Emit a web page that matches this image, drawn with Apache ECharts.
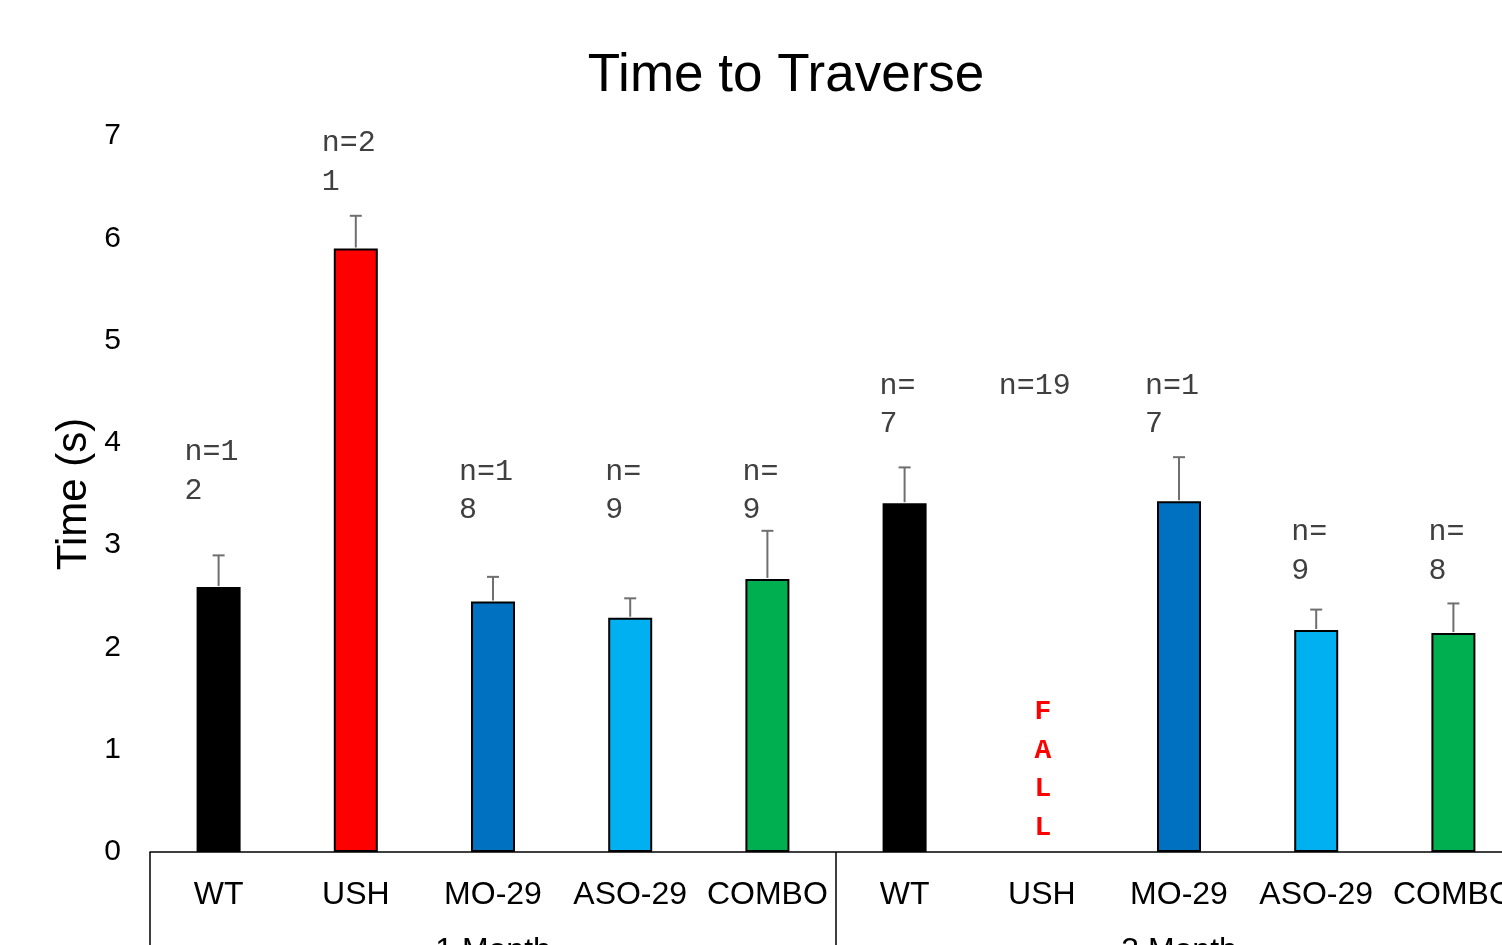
<html>
<head>
<title>Time to Traverse</title>
<script src="https://cdn.jsdelivr.net/npm/echarts@6.0.0/dist/echarts.min.js"></script>
<style>
  body { margin: 0px; background: white; }
  #chart { width: 1502px; height: 945px; }
</style>
</head>
<body>
<div id="chart"></div>
<script type="text/javascript">
  // categories and groups
  const categories = ['WT', 'USH', 'MO-29', 'ASO-29', 'COMBO', 'WT', 'USH', 'MO-29', 'ASO-29', 'COMBO']
  const groups = ['1 Month', '3 Month']

  // mean time and upper error (s)
  const means = [2.59, 5.90, 2.45, 2.29, 2.67, 3.41, null, 3.43, 2.17, 2.14]
  const errTops = [2.90, 6.22, 2.69, 2.48, 3.14, 3.76, null, 3.86, 2.37, 2.43]
  const barColors = ['#000000', '#ff0000', '#0070c0', '#00b0f0', '#00b050',
                     '#000000', '#ff0000', '#0070c0', '#00b0f0', '#00b050']

  // n= annotations and where they sit (in seconds)
  const nLabels = ['n=1\n2', 'n=2\n1', 'n=1\n8', 'n=\n9', 'n=\n9', 'n=\n7', 'n=19', 'n=1\n7', 'n=\n9', 'n=\n8']
  const nLabelAt = [3.91, 6.93, 3.72, 3.72, 3.72, 4.56, 4.56, 4.56, 3.13, 3.13]
  const notes = ['', '', '', '', '', '', 'F\nA\nL\nL', '', '', '']
  const noteAt = [0, 0, 0, 0, 0, 0, 1.37, 0, 0, 0]

  const chart = echarts.init(document.getElementById('chart'))

  const errData = means.map((m, i) => [i, m, errTops[i]]).filter(d => d[1] != null)
  const labelData = nLabels.map((t, i) => [i, nLabelAt[i]])
  const noteData = notes.map((t, i) => [i, noteAt[i]]).filter(d => notes[d[0]] !== '')

  const option = {
    animation: false,
    backgroundColor: '#ffffff',
    title: {
      text: 'Time to Traverse',
      left: 781,
      top: 26,
      textAlign: 'center',
      textStyle: { fontFamily: 'Liberation Sans', fontSize: 53, fontWeight: 'normal', color: '#000' }
    },
    grid: { left: 150, top: 136, height: 716, width: 1372, containLabel: false, outerBoundsMode: 'none' },
    xAxis: [
      {
        type: 'category',
        data: categories,
        axisLine: { lineStyle: { color: '#000', width: 1.5 } },
        axisTick: { show: false },
        axisLabel: { interval: 0, margin: 16, fontFamily: 'Liberation Sans', fontSize: 32, color: '#000' }
      },
      {
        type: 'category',
        data: groups,
        position: 'bottom',
        axisLine: { show: false },
        axisTick: { show: true, inside: false, length: 100, lineStyle: { color: '#000', width: 1.5 } },
        axisLabel: { interval: 0, margin: 72, fontFamily: 'Liberation Sans', fontSize: 32, color: '#000' }
      }
    ],
    yAxis: {
      type: 'value',
      min: 0,
      max: 7,
      interval: 1,
      name: 'Time (s)',
      nameLocation: 'middle',
      nameGap: 39,
      nameMoveOverlap: false,
      nameTextStyle: { fontFamily: 'Liberation Sans', fontSize: 42, color: '#000' },
      axisLine: { show: false },
      axisTick: { show: false },
      splitLine: { show: false },
      axisLabel: { margin: 29, fontFamily: 'Liberation Sans', fontSize: 30, color: '#000' }
    },
    series: [
      {
        type: 'bar',
        barWidth: 44,
        data: means.map((v, i) => ({
          value: v,
          itemStyle: { color: barColors[i], borderColor: '#000', borderWidth: 2 }
        }))
      },
      {
        type: 'custom',
        data: errData,
        z: 5,
        renderItem: function (params, api) {
          const base = api.coord([api.value(0), api.value(1)])
          const top = api.coord([api.value(0), api.value(2)])
          const style = { stroke: '#6f6f6f', lineWidth: 2 }
          return {
            type: 'group',
            children: [
              { type: 'line', shape: { x1: base[0], y1: base[1] - 1, x2: top[0], y2: top[1] }, style: style },
              { type: 'line', shape: { x1: top[0] - 6, y1: top[1], x2: top[0] + 6, y2: top[1] }, style: style }
            ]
          }
        }
      },
      {
        type: 'custom',
        data: labelData,
        z: 6,
        renderItem: function (params, api) {
          const i = api.value(0)
          const p = api.coord([i, api.value(1)])
          const text = nLabels[i]
          const firstLine = text.split('\n')[0]
          return {
            type: 'text',
            x: p[0] - firstLine.length * 9 - 7,
            y: p[1] - 19,
            style: {
              text: text,
              fontFamily: 'Liberation Mono',
              fontSize: 30,
              lineHeight: 38.5,
              fill: '#404040',
              align: 'left',
              verticalAlign: 'top'
            }
          }
        }
      },
      {
        type: 'custom',
        data: noteData,
        z: 6,
        renderItem: function (params, api) {
          const i = api.value(0)
          const p = api.coord([i, api.value(1)])
          return {
            type: 'text',
            x: p[0] + 1,
            y: p[1] - 19,
            style: {
              text: notes[i],
              fontFamily: 'Liberation Mono',
              fontSize: 28,
              fontWeight: 'bold',
              lineHeight: 38.5,
              fill: '#ff0000',
              align: 'center',
              verticalAlign: 'top'
            }
          }
        }
      }
    ]
  }

  chart.setOption(option)
</script>
</body>
</html>
